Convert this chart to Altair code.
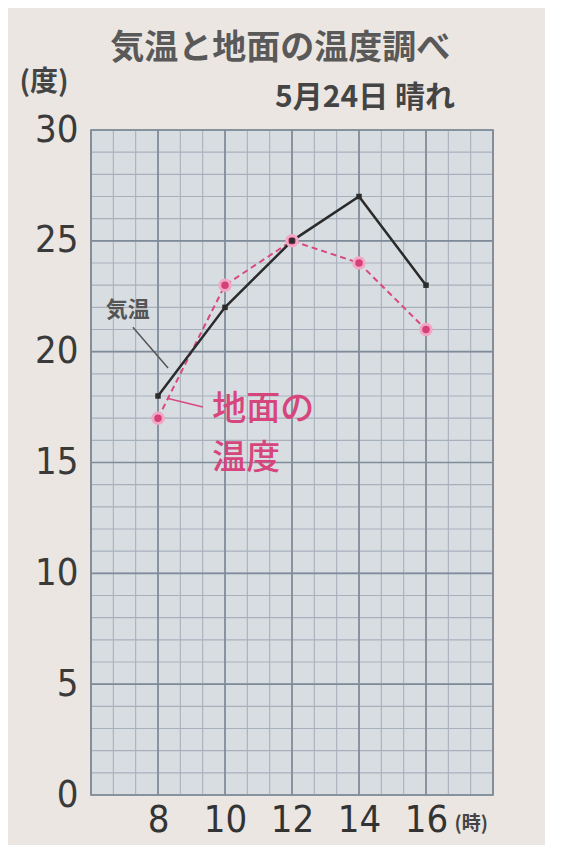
import altair as alt
import pandas as pd

hours = [8, 10, 12, 14, 16]
air_temp = [18, 22, 25, 27, 23]
ground_temp = [17, 23, 25, 24, 21]

x_ticks = [8, 10, 12, 14, 16]
y_ticks = [0, 5, 10, 15, 20, 25, 30]

minor_x = [6 + i * 2 / 3 for i in range(19)]
major_x = [6, 8, 10, 12, 14, 16, 18]
minor_y = list(range(0, 31))
major_y = [0, 5, 10, 15, 20, 25, 30]

title_text = "気温と地面の温度調べ"
subtitle_text = "5月24日 晴れ"

W, H = 402, 665
xs = alt.Scale(domain=[6, 18], nice=False, zero=False)
ys = alt.Scale(domain=[0, 30], nice=False)

NUM_FONT = "DejaVu Sans Condensed, DejaVu Sans"

x_axis = alt.Axis(values=x_ticks, grid=False, domain=False, ticks=False, labelFontSize=38,
                  labelFont=NUM_FONT, labelColor="#333333", labelPadding=6, title=None)
y_axis = alt.Axis(values=y_ticks, grid=False, domain=False, ticks=False, labelFontSize=38,
                  labelFont=NUM_FONT, labelColor="#3a3a3a", labelPadding=13, title=None)


def X(field):
    return alt.X(field, scale=xs, axis=x_axis)


def Y(field):
    return alt.Y(field, scale=ys, axis=y_axis)


df = pd.DataFrame({"h": hours, "air": air_temp, "ground": ground_temp})


def vrules(vals, color, width):
    return alt.Chart(pd.DataFrame({"v": vals})).mark_rule(color=color, strokeWidth=width).encode(
        x=X("v:Q"))


def hrules(vals, color, width):
    return alt.Chart(pd.DataFrame({"v": vals})).mark_rule(color=color, strokeWidth=width).encode(
        y=Y("v:Q"))


grid = (vrules(minor_x, "#a7b1bc", 1.1) + hrules(minor_y, "#a7b1bc", 1.1)
        + vrules(major_x, "#7f8b98", 1.7) + hrules(major_y, "#7f8b98", 1.7))

base = alt.Chart(df)

ground_line = base.mark_line(color="#d9487f", strokeWidth=2, strokeDash=[6, 4]).encode(
    x=X("h:Q"), y=Y("ground:Q"))
ground_pts = base.mark_circle(color="#d63f78", size=110, opacity=1,
                              stroke="#f0a8c4", strokeWidth=3).encode(
    x=X("h:Q"), y=Y("ground:Q"))

air_line = base.mark_line(color="#2b2b2b", strokeWidth=2.5).encode(
    x=X("h:Q"), y=Y("air:Q"))
air_pts = base.mark_square(color="#2b2b2b", size=30, opacity=1).encode(
    x=X("h:Q"), y=Y("air:Q"))

# annotations (in data coordinates)
labels = pd.DataFrame({
    "x": [11.65, 14.18, 4.6, 17.35, 7.1],
    "y": [33.65, 31.44, 32.1, -1.3, 21.9],
    "t": [title_text, subtitle_text, "(度)", "(時)", "気温"],
    "s": [34, 30, 28, 19, 22],
    "c": ["#595959", "#444444", "#444444", "#444444", "#555555"],
})
text_layer = alt.Chart(labels).mark_text(font="Noto Sans CJK JP", fontWeight="bold",
                                         align="center", baseline="middle").encode(
    x=X("x:Q"), y=Y("y:Q"), text="t:N",
    size=alt.Size("s:Q", scale=None, legend=None),
    color=alt.Color("c:N", scale=None, legend=None))

pink_labels = pd.DataFrame({"x": [9.62, 9.62], "y": [17.37, 15.15], "t": ["地面の", "温度"]})
pink_text = alt.Chart(pink_labels).mark_text(font="Noto Sans CJK JP", fontSize=34, fontWeight=500,
                                             color="#d6457c", align="left", baseline="middle").encode(
    x=X("x:Q"), y=Y("y:Q"), text="t:N")

leaders = pd.DataFrame({"x1": [7.25, 9.34], "y1": [21.1, 17.5], "x2": [8.3, 8.27], "y2": [19.26, 17.9],
                        "c": ["#555555", "#d9487f"]})
leader_layer = alt.Chart(leaders).mark_rule(strokeWidth=1.5).encode(
    x=X("x1:Q"), x2="x2:Q", y=Y("y1:Q"), y2="y2:Q",
    color=alt.Color("c:N", scale=None, legend=None))

chart = alt.layer(grid, ground_line, air_line, ground_pts, air_pts, leader_layer,
                  text_layer, pink_text).properties(
    width=W, height=H,
    autosize=alt.AutoSizeParams(type="none"),
    padding={"left": 83, "top": 122, "right": 52, "bottom": 50},
    background="#ebe6e2",
).configure_view(fill="#d8dde2", stroke="#7f8b98", strokeWidth=1.7)

chart.save("out.html", embed_options={"renderer": "svg", "actions": False})
